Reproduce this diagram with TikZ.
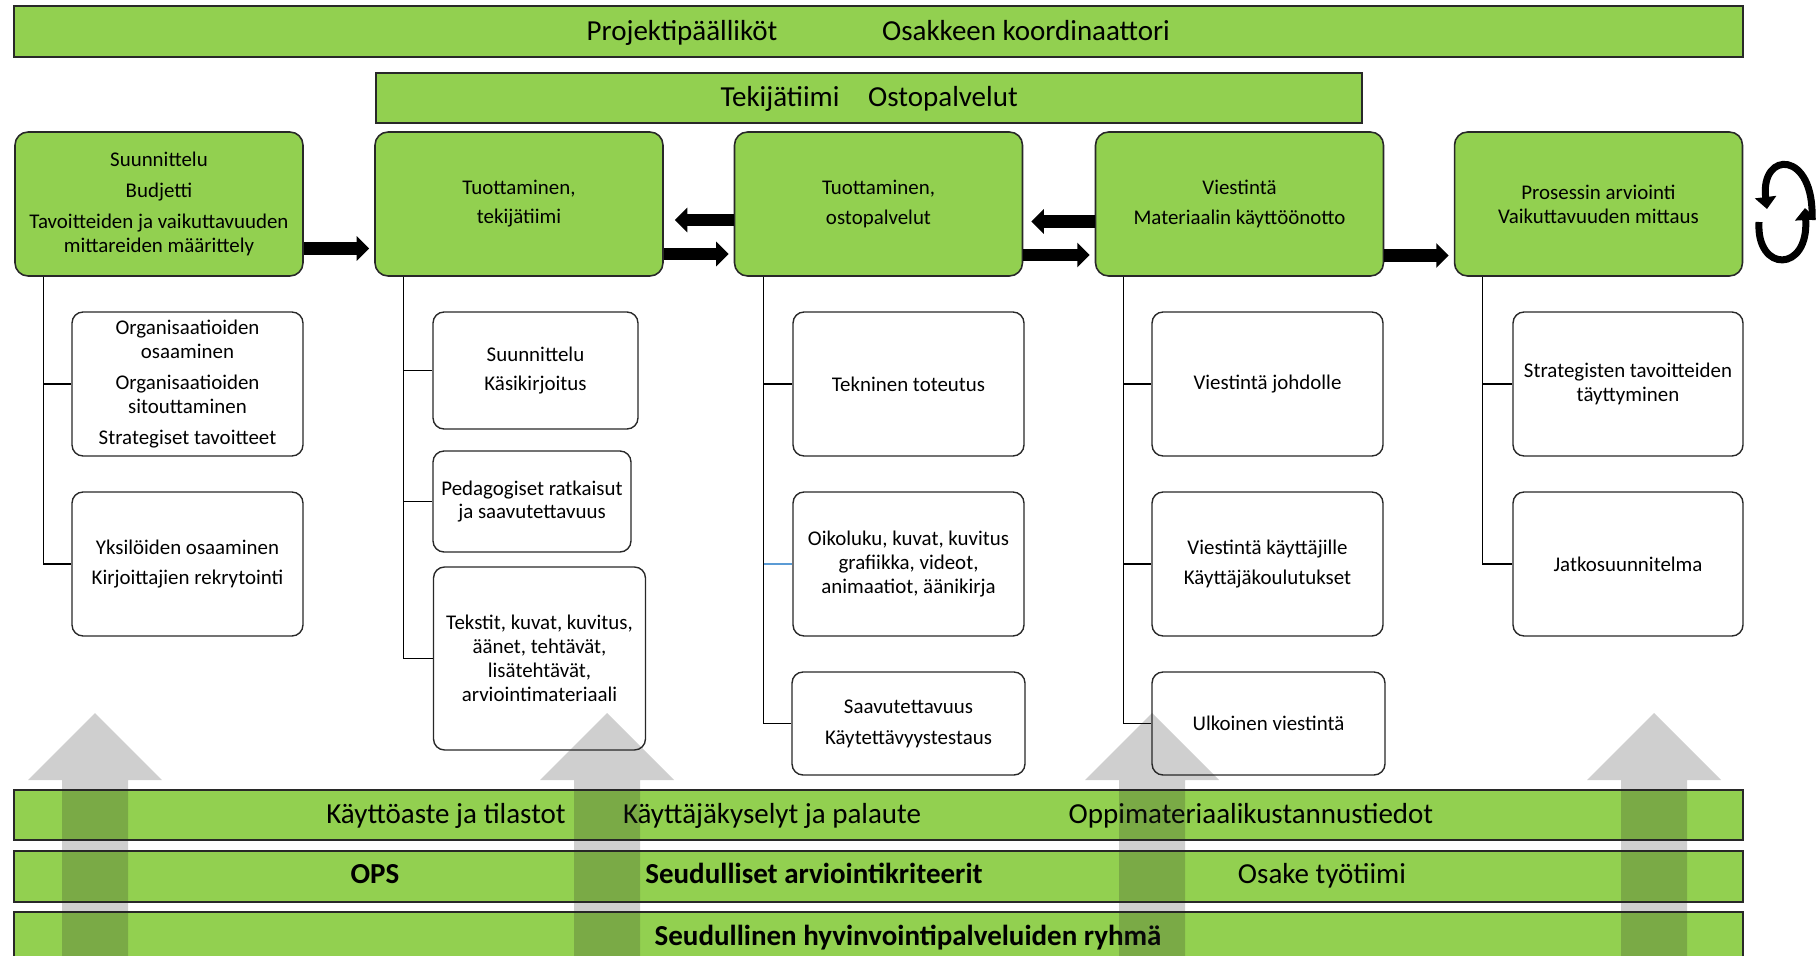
\documentclass[tikz,border=0pt]{standalone}
\usepackage{fontspec}
\setmainfont{Carlito}
\usepackage{tikz}
\usetikzlibrary{arrows.meta}

\definecolor{leafgreen}{RGB}{146,208,80}
\definecolor{edgegray}{RGB}{40,40,40}
\definecolor{linkblue}{RGB}{91,155,213}

\begin{document}
\begin{tikzpicture}[x=0.02cm, y=-0.02cm, line width=0.7pt,
    bar/.style={draw=edgegray, fill=leafgreen, line width=0.9pt, minimum width=34.58cm, inner sep=0pt},
    bartext/.style={anchor=base, inner sep=0pt, font=\fontsize{16.5}{19}\selectfont},
    phase/.style={draw=edgegray, fill=leafgreen, line width=0.9pt, rounded corners=0.26cm, minimum width=5.76cm, minimum height=2.88cm, align=center, font=\fontsize{11.9}{13.6}\selectfont},
    task/.style={draw=edgegray, fill=white, line width=0.8pt, rounded corners=0.22cm, minimum width=4.62cm, minimum height=2.88cm, align=center, font=\fontsize{11.9}{13.6}\selectfont},
    fat/.style={line width=0.25cm, -{Triangle[length=0.25cm, width=0.48cm]}},
    cycarrow/.style={line width=0.14cm, -{Triangle[length=0.24cm, width=0.42cm]}},
    uparrow/.style={fill=black!85, opacity=0.22},
]
    \clip (0,0) rectangle (1816,956);

    % top bars
    \node[bar, minimum height=1.02cm] (lead) at (878.5,31.5) {};
    \node[bartext] (pm) at (682,41) {Projektipäälliköt};
    \node[bartext] (coord) at (1026,41) {Osakkeen koordinaattori};
    \node[bar, minimum width=19.72cm, minimum height=1cm] (team) at (869,98) {};
    \node[bartext] (makers) at (780,107) {Tekijätiimi};
    \node[bartext] (buy) at (943,107) {Ostopalvelut};

    % phases
    \node[phase] (s1) at (159,204) {Suunnittelu\\[4pt]Budjetti\\[4pt]Tavoitteiden ja vaikuttavuuden\\mittareiden määrittely};
    \node[phase] (s2) at (519,204) {Tuottaminen,\\[3pt]tekijätiimi};
    \node[phase] (s3) at (878.5,204) {Tuottaminen,\\[3pt]ostopalvelut};
    \node[phase] (s4) at (1239.5,204) {Viestintä\\[3pt]Materiaalin käyttöönotto};
    \node[phase] (s5) at (1598.5,204) {Prosessin arviointi\\Vaikuttavuuden mittaus};

    \draw[fat, shorten >=0.1cm] ([yshift=-0.89cm]s1.east) -- ([yshift=-0.89cm]s2.west);
    \draw[fat, shorten >=0.1cm] ([yshift=-1.0cm]s2.east) -- ([yshift=-1.0cm]s3.west);
    \draw[fat, shorten >=0.22cm] ([yshift=-0.32cm]s3.west) -- ([yshift=-0.32cm]s2.east);
    \draw[fat, shorten >=0.1cm] ([yshift=-1.02cm]s3.east) -- ([yshift=-1.02cm]s4.west);
    \draw[fat, shorten >=0.16cm] ([yshift=-0.35cm]s4.west) -- ([yshift=-0.35cm]s3.east);
    \draw[fat, shorten >=0.1cm] ([yshift=-1.03cm]s4.east) -- ([yshift=-1.03cm]s5.west);

    % repeat symbol
    \draw[cycarrow] (1812,220) .. controls (1815,150) and (1760,150) .. (1767,209);
    \draw[cycarrow] (1759,222) .. controls (1756,273) and (1809,273) .. (1805,208);

    % tasks
    \node[task] (s1a) at (187.5,384) {Organisaatioiden\\osaaminen\\[4pt]Organisaatioiden\\sitouttaminen\\[4pt]Strategiset tavoitteet};
    \node[task] (s1b) at (187.5,564) {Yksilöiden osaaminen\\[4pt]Kirjoittajien rekrytointi};

    \node[task, minimum width=4.1cm, minimum height=2.34cm] (s2a) at (535.5,370.5) {Suunnittelu\\[3pt]Käsikirjoitus};
    \node[task, minimum width=3.96cm, minimum height=2.02cm] (s2b) at (532,501.5) {Pedagogiset ratkaisut\\ja saavutettavuus};
    \node[task, minimum width=4.24cm, minimum height=3.66cm] (s2c) at (539.5,658.5) {Tekstit, kuvat, kuvitus,\\äänet, tehtävät,\\lisätehtävät,\\arviointimateriaali};

    \node[task] (s3a) at (908.5,384) {Tekninen toteutus};
    \node[task] (s3b) at (908.5,564) {Oikoluku, kuvat, kuvitus\\grafiikka, videot,\\animaatiot, äänikirja};
    \node[task, minimum width=4.66cm, minimum height=2.06cm] (s3c) at (908.5,723.5) {Saavutettavuus\\[4pt]Käytettävyystestaus};

    \node[task] (s4a) at (1267.5,384) {Viestintä johdolle};
    \node[task] (s4b) at (1267.5,564) {Viestintä käyttäjille\\[4pt]Käyttäjäkoulutukset};
    \node[task, minimum width=4.66cm, minimum height=2.06cm] (s4c) at (1268.5,723.5) {Ulkoinen viestintä};

    \node[task, minimum width=4.6cm] (s5a) at (1628,384) {Strategisten tavoitteiden\\täyttyminen};
    \node[task, minimum width=4.6cm] (s5b) at (1628,564) {Jatkosuunnitelma};

    % trunks
    \coordinate (t1) at ([xshift=0.58cm]s1.south west);
    \coordinate (t2) at ([xshift=0.58cm]s2.south west);
    \coordinate (t3) at ([xshift=0.6cm]s3.south west);
    \coordinate (t4) at ([xshift=0.58cm]s4.south west);
    \coordinate (t5) at ([xshift=0.58cm]s5.south west);
    \draw (t1) |- (s1a.west);
    \draw (t1) |- (s1b.west);
    \draw (t2) |- (s2a.west);
    \draw (t2) |- (s2b.west);
    \draw (t2) |- (s2c.west);
    \draw (t3) |- (s3a.west);
    \draw (t3) |- (s3c.west);
    \draw[linkblue] (t3 |- s3b.west) -- (s3b.west);
    \draw (t4) |- (s4a.west);
    \draw (t4) |- (s4b.west);
    \draw (t4) |- (s4c.west);
    \draw (t5) |- (s5a.west);
    \draw (t5) |- (s5b.west);

    % bottom bars
    \node[bar, minimum height=1cm] (usage) at (878.5,815) {};
    \node[bartext] (stats) at (446,823) {Käyttöaste ja tilastot};
    \node[bartext] (survey) at (772,823) {Käyttäjäkyselyt ja palaute};
    \node[bartext] (costs) at (1251,823) {Oppimateriaalikustannustiedot};
    \node[bar, minimum height=1.02cm] (crit) at (878.5,876.5) {};
    \node[bartext, font=\fontsize{16.5}{19}\selectfont\bfseries] (ops) at (375,883) {OPS};
    \node[bartext, font=\fontsize{16.5}{19}\selectfont\bfseries] (regcrit) at (814,883) {Seudulliset arviointikriteerit};
    \node[bartext] (worktm) at (1322,883) {Osake työtiimi};
    \node[bar, minimum height=1.76cm] (group) at (878.5,956) {};
    \node[bartext, font=\fontsize{16.5}{19}\selectfont\bfseries] (welfare) at (908,945) {Seudullinen hyvinvointipalveluiden ryhmä};

    % feedback arrows
    \foreach \cx in {95,607,1152,1654}
        \fill[uparrow] (\cx-33,970) -- (\cx-33,780) -- (\cx-67,780) -- (\cx,713) -- (\cx+67,780) -- (\cx+33,780) -- (\cx+33,970) -- cycle;
\end{tikzpicture}
\end{document}
